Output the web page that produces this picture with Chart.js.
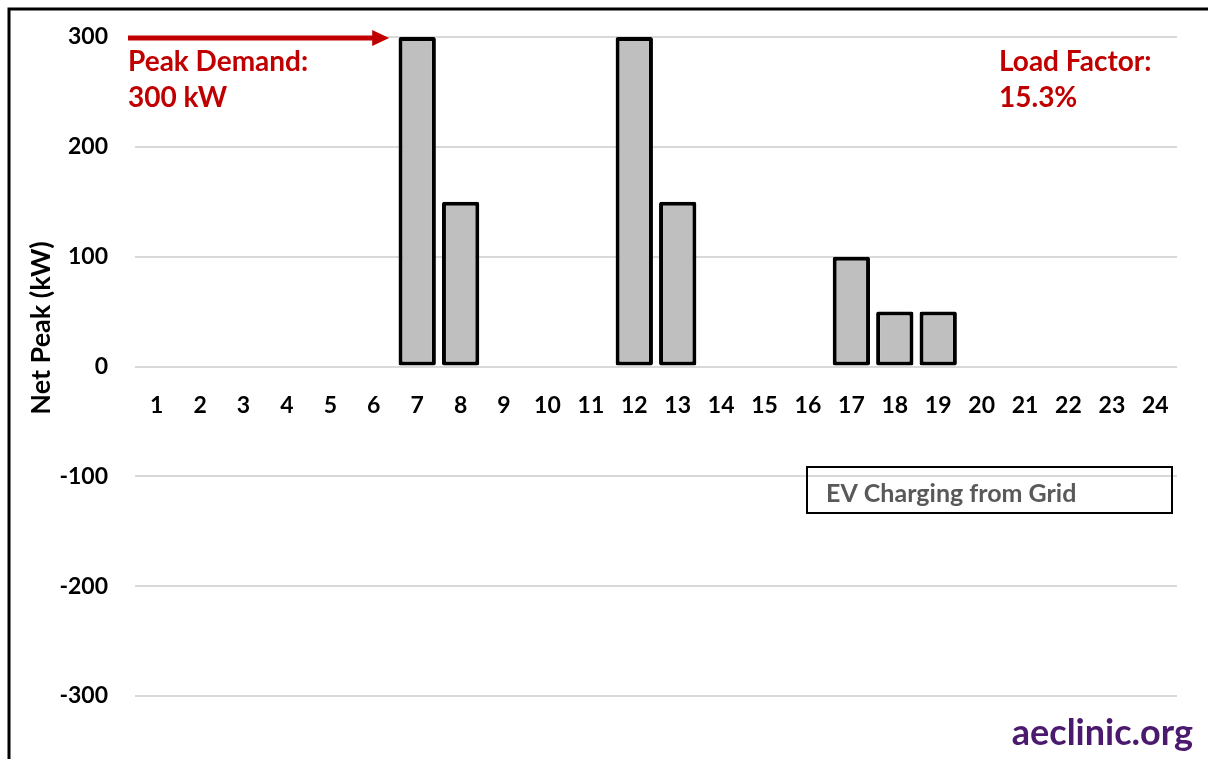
<!DOCTYPE html>
<html>
<head>
<meta charset="utf-8">
<script src="https://cdn.jsdelivr.net/npm/chart.js@4/dist/chart.umd.min.js"></script>
<style>
  body { margin: 0; background: #fff; }
  #wrap { width: 1208px; height: 759px; position: relative; }
</style>
</head>
<body>
<div id="wrap"><canvas id="peakChart" width="1208" height="759"></canvas></div>
<script>
const hours = ["1","2","3","4","5","6","7","8","9","10","11","12","13","14","15","16","17","18","19","20","21","22","23","24"];
const netPeak = [0,0,0,0,0,0,300,150,0,0,0,300,150,0,0,0,100,50,50,0,0,0,0,0];
const seriesName = "EV Charging from Grid";
const yTicks = [-300,-200,-100,0,100,200,300];
const peakText = ["Peak Demand:", "300 kW"];
const loadText = ["Load Factor:", "15.3%"];

const FONT = "Lato, 'Open Sans', sans-serif";
const RED = "#c00000";

const extras = {
    id: "extras",
    afterDraw(chart) {
        const ctx = chart.ctx;
        const x = chart.scales.x;
        const y = chart.scales.y;
        ctx.save();

        // outer frame
        ctx.strokeStyle = "#000";
        ctx.lineWidth = 3;
        ctx.beginPath();
        ctx.moveTo(9, 759);
        ctx.lineTo(9, 9);
        ctx.lineTo(1208, 9);
        ctx.stroke();

        // y title
        ctx.save();
        ctx.translate(41, 328);
        ctx.rotate(-Math.PI / 2);
        ctx.fillStyle = "#000";
        ctx.font = "bold 27px " + FONT;
        ctx.textAlign = "center";
        ctx.textBaseline = "middle";
        ctx.fillText("Net Peak (kW)", 0, 0);
        ctx.restore();

        // peak arrow
        const peak = Math.max(...netPeak);
        const py = y.getPixelForValue(peak) + 1;
        const xEnd = x.getPixelForValue(netPeak.indexOf(peak)) - 28;
        ctx.strokeStyle = RED;
        ctx.fillStyle = RED;
        ctx.lineWidth = 5;
        ctx.beginPath();
        ctx.moveTo(128, py);
        ctx.lineTo(xEnd - 14, py);
        ctx.stroke();
        ctx.beginPath();
        ctx.moveTo(xEnd, py);
        ctx.lineTo(xEnd - 17, py - 8);
        ctx.lineTo(xEnd - 17, py + 8);
        ctx.closePath();
        ctx.fill();

        ctx.font = "bold 28px " + FONT;
        ctx.textAlign = "left";
        ctx.textBaseline = "alphabetic";
        ctx.fillText(peakText[0], 128, 71);
        ctx.fillText(peakText[1], 128, 107);
        ctx.fillText(loadText[0], 999, 71);
        ctx.fillText(loadText[1], 999, 107);

        // legend box
        ctx.strokeStyle = "#000";
        ctx.lineWidth = 2;
        ctx.strokeRect(807, 467, 365, 46);
        ctx.fillStyle = "#595959";
        ctx.font = "bold 25px " + FONT;
        ctx.fillText(seriesName, 826, 502);

        // site tag
        ctx.fillStyle = "#4b1a6e";
        ctx.font = "bold 36px " + FONT;
        ctx.textAlign = "right";
        ctx.fillText("aeclinic.org", 1193, 745);

        ctx.restore();
    }
};

new Chart(document.getElementById("peakChart"), {
    type: "bar",
    data: {
        labels: hours,
        datasets: [{
            label: seriesName,
            data: netPeak,
            backgroundColor: "#bfbfbf",
            borderColor: "#000",
            borderWidth: 4,
            borderSkipped: false,
            borderRadius: 2,
            categoryPercentage: 1,
            barPercentage: 0.86
        }]
    },
    options: {
        responsive: false,
        animation: false,
        layout: { padding: { left: 0, right: 31, top: 37, bottom: 63 } },
        plugins: {
            legend: { display: false },
            tooltip: { enabled: false }
        },
        scales: {
            x: {
                position: { y: 0 },
                afterFit(scale) { scale.height = 0; },
                grid: { display: false, drawTicks: false },
                border: { display: false },
                ticks: {
                    color: "#000",
                    padding: 25,
                    maxRotation: 0,
                    autoSkip: false,
                    font: { family: FONT, size: 23, weight: "bold" }
                }
            },
            y: {
                min: -300,
                max: 300,
                afterFit(scale) {
                    scale.width = 135;
                    scale.paddingTop = 0;
                    scale.paddingBottom = 0;
                },
                afterBuildTicks(scale) { scale.ticks = yTicks.map(v => ({ value: v })); },
                grid: { color: "#d9d9d9", lineWidth: 2, drawTicks: false },
                border: { display: false },
                ticks: {
                    color: "#000",
                    padding: 27,
                    font: { family: FONT, size: 23, weight: "bold" }
                }
            }
        }
    },
    plugins: [extras]
});
</script>
</body>
</html>
